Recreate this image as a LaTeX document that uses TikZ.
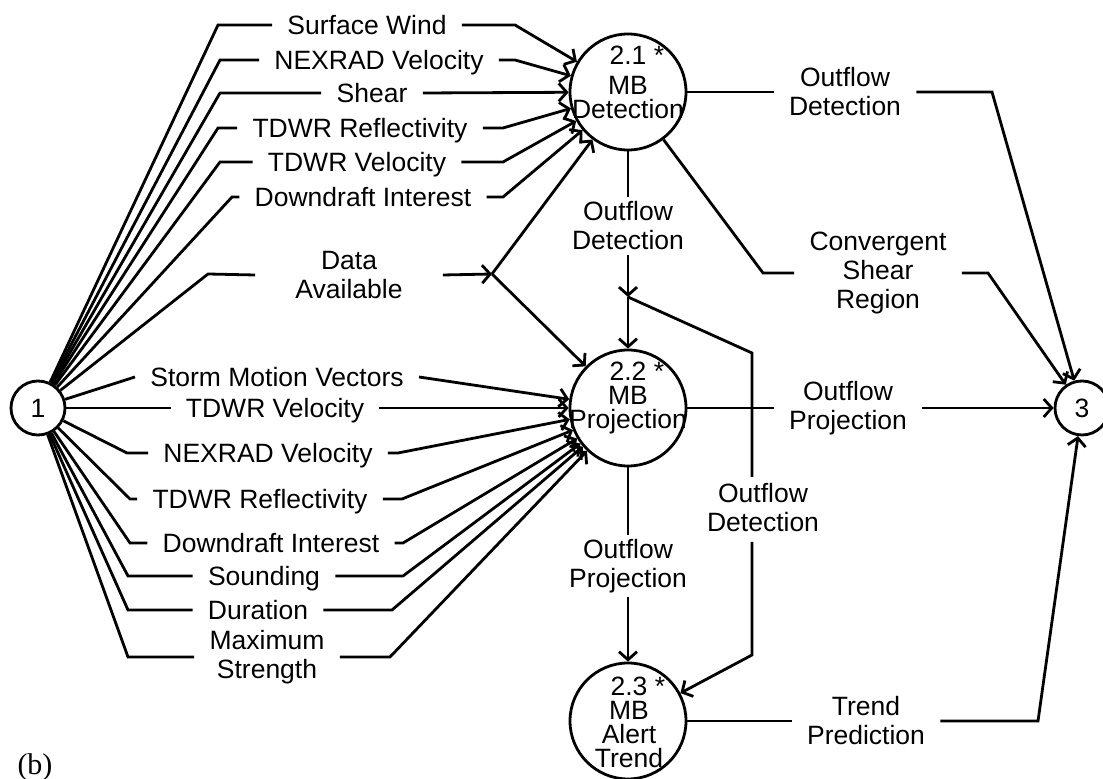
\documentclass[tikz,border=0pt]{standalone}
\usepackage{fontspec}
\setmainfont{Liberation Sans}
\newfontfamily\capfont{Liberation Serif}
\usetikzlibrary{arrows.meta}

\begin{document}
\begin{tikzpicture}[x=0.5pt, y=-0.5pt,
  every node/.style={font=\fontsize{13.25}{14.5}\selectfont},
  pc/.style={circle, draw, line width=1.4pt, minimum size=58pt, inner sep=0pt},
  tm/.style={circle, draw, line width=1.4pt, minimum size=27pt, inner sep=0pt},
  pt/.style={align=center, inner sep=0pt, font=\fontsize{13.25}{12}\selectfont},
  lb/.style={inner xsep=7.5pt, inner ysep=2pt, text height=9.5pt, text depth=0pt},
  lb2/.style={align=center, inner xsep=7.5pt, inner ysep=2pt},
  l/.style={line width=1.4pt},
  a/.style={line width=1.4pt, -{Straight Barb[length=4pt, width=9pt]}}]
\useasboundingbox (0,0) rectangle (1103,779);
\node[tm] (n1) at (38,408) {1};
\node[pc] (n21) at (628,92) {};
\node[pt] (t21) at (628,82) {2.1\rlap{~*}\\[3pt]MB\\Detection};
\node[pc] (n22) at (628,408) {};
\node[pt] (t22) at (628,398) {2.2\rlap{~*}\\MB\\Projection};
\node[pc] (n23) at (628,721) {};
\node[pt] (t23) at (629,722) {2.3\rlap{~*}\\MB\\Alert\\Trend};
\node[tm] (n3) at (1082,408) {3};
\node[lb] (i1) at (367,25) {Surface Wind};
\node[lb] (i2) at (379,60) {NEXRAD Velocity};
\node[lb] (i3) at (372,93) {Shear};
\node[lb] (i4) at (360,128) {TDWR Reflectivity};
\node[lb] (i5) at (357,162) {TDWR Velocity};
\node[lb] (i6) at (363,197) {Downdraft Interest};
\node[lb2, inner xsep=20pt] (i7) at (349,275) {Data\\Available};
\node[lb] (j1) at (277,377) {Storm Motion Vectors};
\node[lb] (j2) at (275,408) {TDWR Velocity};
\node[lb] (j3) at (268,453) {NEXRAD Velocity};
\node[lb] (j4) at (260,499) {TDWR Reflectivity};
\node[lb] (j5) at (271,543) {Downdraft Interest};
\node[lb] (j6) at (264,576) {Sounding};
\node[lb] (j7) at (258,610) {Duration};
\node[lb2] (j8) at (267,657) {Maximum\\Strength};
\node[lb2] (o1) at (628,226) {Outflow\\Detection};
\node[lb2] (o2) at (845,92) {Outflow\\Detection};
\node[lb2] (o3) at (878,273) {Convergent\\Shear\\Region};
\node[lb2] (o4) at (848,408) {Outflow\\Projection};
\node[lb2] (o5) at (763,508) {Outflow\\Detection};
\node[lb2] (o6) at (628,566) {Outflow\\Projection};
\node[lb2] (o7) at (866,721) {Trend\\Prediction};
\node[font=\capfont\fontsize{15}{17}\selectfont] (cap) at (35,767) {(b)};
\coordinate (jd) at (492,274);
\coordinate (jo) at (628,297);
\draw[l] (n1) -- (218,25) -- (i1.west);
\draw[a] (i1.east) -- (515,25) -- (n21);
\draw[l] (n1) -- (220,60) -- (i2.west);
\draw[a] (i2.east) -- (515,60) -- (n21);
\draw[l] (n1) -- (220,93) -- (i3.west);
\draw[a] (i3.east) -- (n21);
\draw[l] (n1) -- (218,128) -- (i4.west);
\draw[a] (i4.east) -- (503,128) -- (n21);
\draw[l] (n1) -- (220,162) -- (i5.west);
\draw[a] (i5.east) -- (503,162) -- (n21);
\draw[l] (n1) -- (232,197) -- (i6.west);
\draw[a] (i6.east) -- (503,197) -- (n21);
\draw[l] (n1) -- (208,274) -- (i7.west);
\draw[a] (i7.east) -- (jd);
\draw[a] (jd) -- (n21);
\draw[a] (jd) -- (n22);
\draw[l] (n1) -- (j1.west);
\draw[a] (j1.east) -- (n22);
\draw[l] (n1) -- (j2.west);
\draw[a] (j2.east) -- (n22);
\draw[l] (n1) -- (127,453) -- (j3.west);
\draw[a] (j3.east) -- (398,453) -- (n22);
\draw[l] (n1) -- (130,499) -- (j4.west);
\draw[a] (j4.east) -- (402,499) -- (n22);
\draw[l] (n1) -- (130,543) -- (j5.west);
\draw[a] (j5.east) -- (403,543) -- (n22);
\draw[l] (n1) -- (128,576) -- (j6.west);
\draw[a] (j6.east) -- (403,576) -- (n22);
\draw[l] (n1) -- (128,610) -- (j7.west);
\draw[a] (j7.east) -- (392,610) -- (n22);
\draw[l] (n1) -- (128,657) -- (j8.west);
\draw[a] (j8.east) -- (390,657) -- (n22);
\draw[l] (n21) -- (o1.north);
\draw[a] (o1.south) -- (jo);
\draw[a] (jo) -- (n22);
\draw[l] (jo) -- (752,353) -- (752,477);
\draw[a] (752,542) -- (752,655) -- (n23);
\draw[l] (n21) -- (o2.west);
\draw[a] (o2.east) -- (992,92) -- (n3);
\draw[l] (n21) -- (763,273) -- (o3.west);
\draw[a] (o3.east) -- (988,273) -- (n3);
\draw[l] (n22) -- (o4.west);
\draw[a] (o4.east) -- (n3);
\draw[l] (n22) -- (o6.north);
\draw[a] (o6.south) -- (n23);
\draw[l] (n23) -- (o7.west);
\draw[a] (o7.east) -- (1038,721) -- (n3);
\end{tikzpicture}
\end{document}
